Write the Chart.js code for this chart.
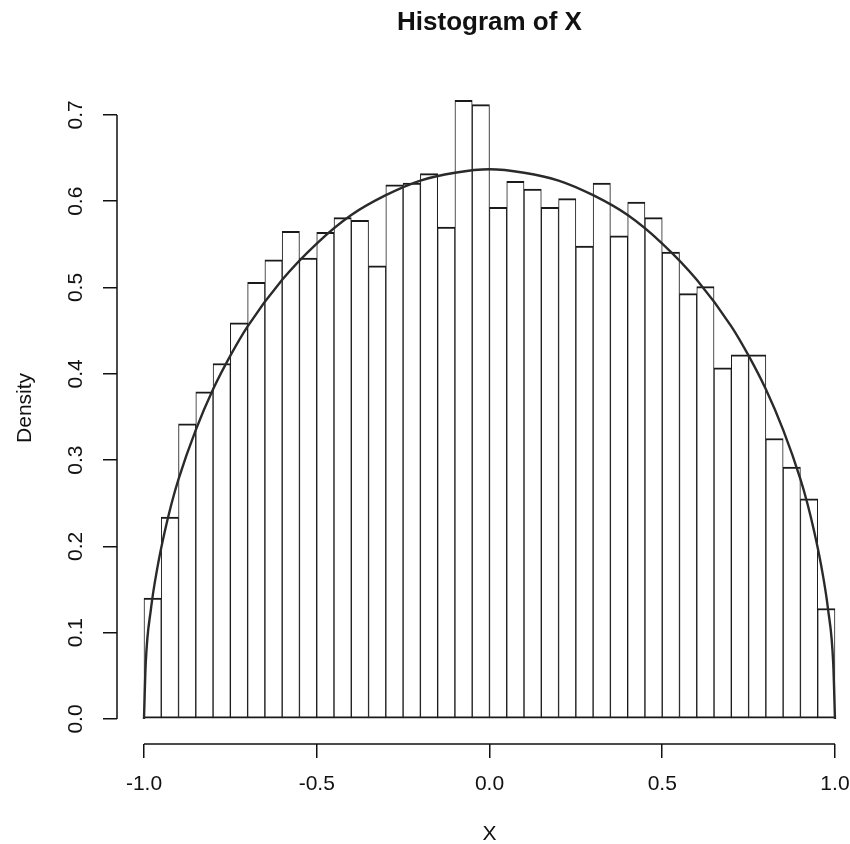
<!DOCTYPE html>
<html><head><meta charset="utf-8">
<script src="https://cdn.jsdelivr.net/npm/chart.js@4"></script>
<style>html,body{margin:0;padding:0;background:#fff}#wrap{width:850px;height:844px}</style>
</head><body><div id="wrap"><canvas id="c" width="850" height="844"></canvas></div>
<script>
// Histogram bins (centres of 0.05-wide bins from -1 to 1)
const binCenters = [-0.975,-0.925,-0.875,-0.825,-0.775,-0.725,-0.675,-0.625,-0.575,-0.525,
  -0.475,-0.425,-0.375,-0.325,-0.275,-0.225,-0.175,-0.125,-0.075,-0.025,
  0.025,0.075,0.125,0.175,0.225,0.275,0.325,0.375,0.425,0.475,
  0.525,0.575,0.625,0.675,0.725,0.775,0.825,0.875,0.925,0.975];
const densities = [0.140,0.234,0.342,0.379,0.412,0.459,0.506,0.532,0.565,0.534,
  0.564,0.581,0.578,0.525,0.619,0.621,0.632,0.570,0.717,0.712,
  0.593,0.623,0.614,0.593,0.603,0.548,0.621,0.560,0.599,0.581,
  0.541,0.493,0.501,0.407,0.422,0.422,0.325,0.292,0.255,0.128];
// Density curve
const curveX = [-1,-0.995,-0.98,-0.96,-0.94,-0.92,-0.9,-0.85,-0.8,-0.75,-0.7,-0.6,-0.5,-0.4,-0.3,-0.2,-0.1,0,
  0.1,0.2,0.3,0.4,0.5,0.6,0.7,0.75,0.8,0.85,0.9,0.92,0.94,0.96,0.98,0.995,1];
const curveY = [0,0.064,0.127,0.178,0.217,0.250,0.278,0.335,0.382,0.421,0.455,0.509,0.551,0.584,0.607,0.624,0.633,0.637,
  0.633,0.624,0.607,0.584,0.551,0.509,0.455,0.421,0.382,0.335,0.278,0.250,0.217,0.178,0.127,0.064,0];
const xTicks = [-1,-0.5,0,0.5,1];
const yTicks = [0,0.1,0.2,0.3,0.4,0.5,0.6,0.7];

Chart.defaults.font.family = '"Liberation Sans", Arial, Helvetica, sans-serif';
Chart.defaults.color = '#111';

const axisLines = {
  id: 'axisLines',
  afterLayout(chart) {
    const x = chart.scales.x;
    const mid = (x.getPixelForValue(xTicks[0]) + x.getPixelForValue(xTicks[xTicks.length-1])) / 2;
    // centre the main title over the x axis range (-1..1) like the original
    const t = chart.titleBlock;
    if (t) {
      const half = (t.right - t.left) / 2;
      t.left = mid - half; t.right = mid + half;
    }
    // centre the x-axis title the same way
    if (!x._titlePatched) {
      const orig = x.drawTitle;
      x.drawTitle = function () {
        const L = this.left, R = this.right;
        const m = (this.getPixelForValue(xTicks[0]) + this.getPixelForValue(xTicks[xTicks.length-1])) / 2;
        const half = (R - L) / 2;
        this.left = m - half; this.right = m + half;
        orig.call(this);
        this.left = L; this.right = R;
      };
      x._titlePatched = true;
    }
  },
  afterDraw(chart) {
    const {ctx, chartArea, scales: {x, y}} = chart;
    ctx.save();
    ctx.strokeStyle = '#111';
    ctx.lineWidth = 1.5;
    ctx.beginPath();
    ctx.moveTo(chartArea.left, y.getPixelForValue(yTicks[0]));
    ctx.lineTo(chartArea.left, y.getPixelForValue(yTicks[yTicks.length-1]));
    ctx.moveTo(x.getPixelForValue(xTicks[0]), chartArea.bottom);
    ctx.lineTo(x.getPixelForValue(xTicks[xTicks.length-1]), chartArea.bottom);
    ctx.stroke();
    ctx.restore();
  }
};

function zeroPad(s){ s.paddingLeft=0; s.paddingRight=0; s.paddingTop=0; s.paddingBottom=0; }

new Chart(document.getElementById('c'), {
  data: {
    datasets: [
      {
        type: 'line',
        order: 0,
        data: curveX.map((v,i)=>({x:v, y:curveY[i]})),
        borderColor: '#2a2a2a',
        borderWidth: 2.4,
        pointRadius: 0,
        cubicInterpolationMode: 'monotone',
        fill: false
      },
      {
        type: 'bar',
        order: 1,
        data: binCenters.map((v,i)=>({x:v, y:densities[i]})),
        backgroundColor: '#ffffff',
        borderColor: '#1a1a1a',
        borderWidth: {top:2, bottom:2, left:1, right:1},
        borderSkipped: false,
        barPercentage: 1,
        categoryPercentage: 1
      }
    ]
  },
  options: {
    responsive: false,
    animation: false,
    devicePixelRatio: 1,
    events: [],
    layout: { padding: 0 },
    plugins: {
      legend: {display:false},
      tooltip: {enabled:false},
      title: {
        display: true,
        text: 'Histogram of X',
        fullSize: false,
        font: {size: 26, weight: 'bold'},
        color: '#111',
        padding: {top: 7.4, bottom: 33.2}
      }
    },
    scales: {
      x: {
        type: 'linear',
        offset: false,
        min: -1.0781, max: 1.0435,
        afterBuildTicks: s => { s.ticks = xTicks.map(v=>({value:v})); },
        afterFit: s => { s.height = 100; zeroPad(s); },
        grid: {display:true, offset:false, drawOnChartArea:false, drawTicks:true, tickLength:14, color:'#111', lineWidth:1.5},
        border: {display:false},
        ticks: {callback: v => Number(v).toFixed(1), font:{size:21}, color:'#111', padding:14, maxRotation:0, minRotation:0},
        title: {display:true, text:'X', font:{size:21}, color:'#111', padding:{top:0, bottom:-3}}
      },
      y: {
        type: 'linear',
        min: -0.029, max: 0.75,
        afterBuildTicks: s => { s.ticks = yTicks.map(v=>({value:v})); },
        afterFit: s => { s.width = 117; zeroPad(s); },
        grid: {display:true, drawOnChartArea:false, drawTicks:true, tickLength:14, color:'#111', lineWidth:1.5},
        border: {display:false},
        ticks: {callback: v => Number(v).toFixed(1), font:{size:21}, color:'#111', padding:12, minRotation:90, maxRotation:90, crossAlign:'center'},
        title: {display:true, text:'Density', font:{size:21}, color:'#111', padding:{top:13, bottom:0}}
      }
    }
  },
  plugins: [axisLines]
});
</script>
</body></html>
